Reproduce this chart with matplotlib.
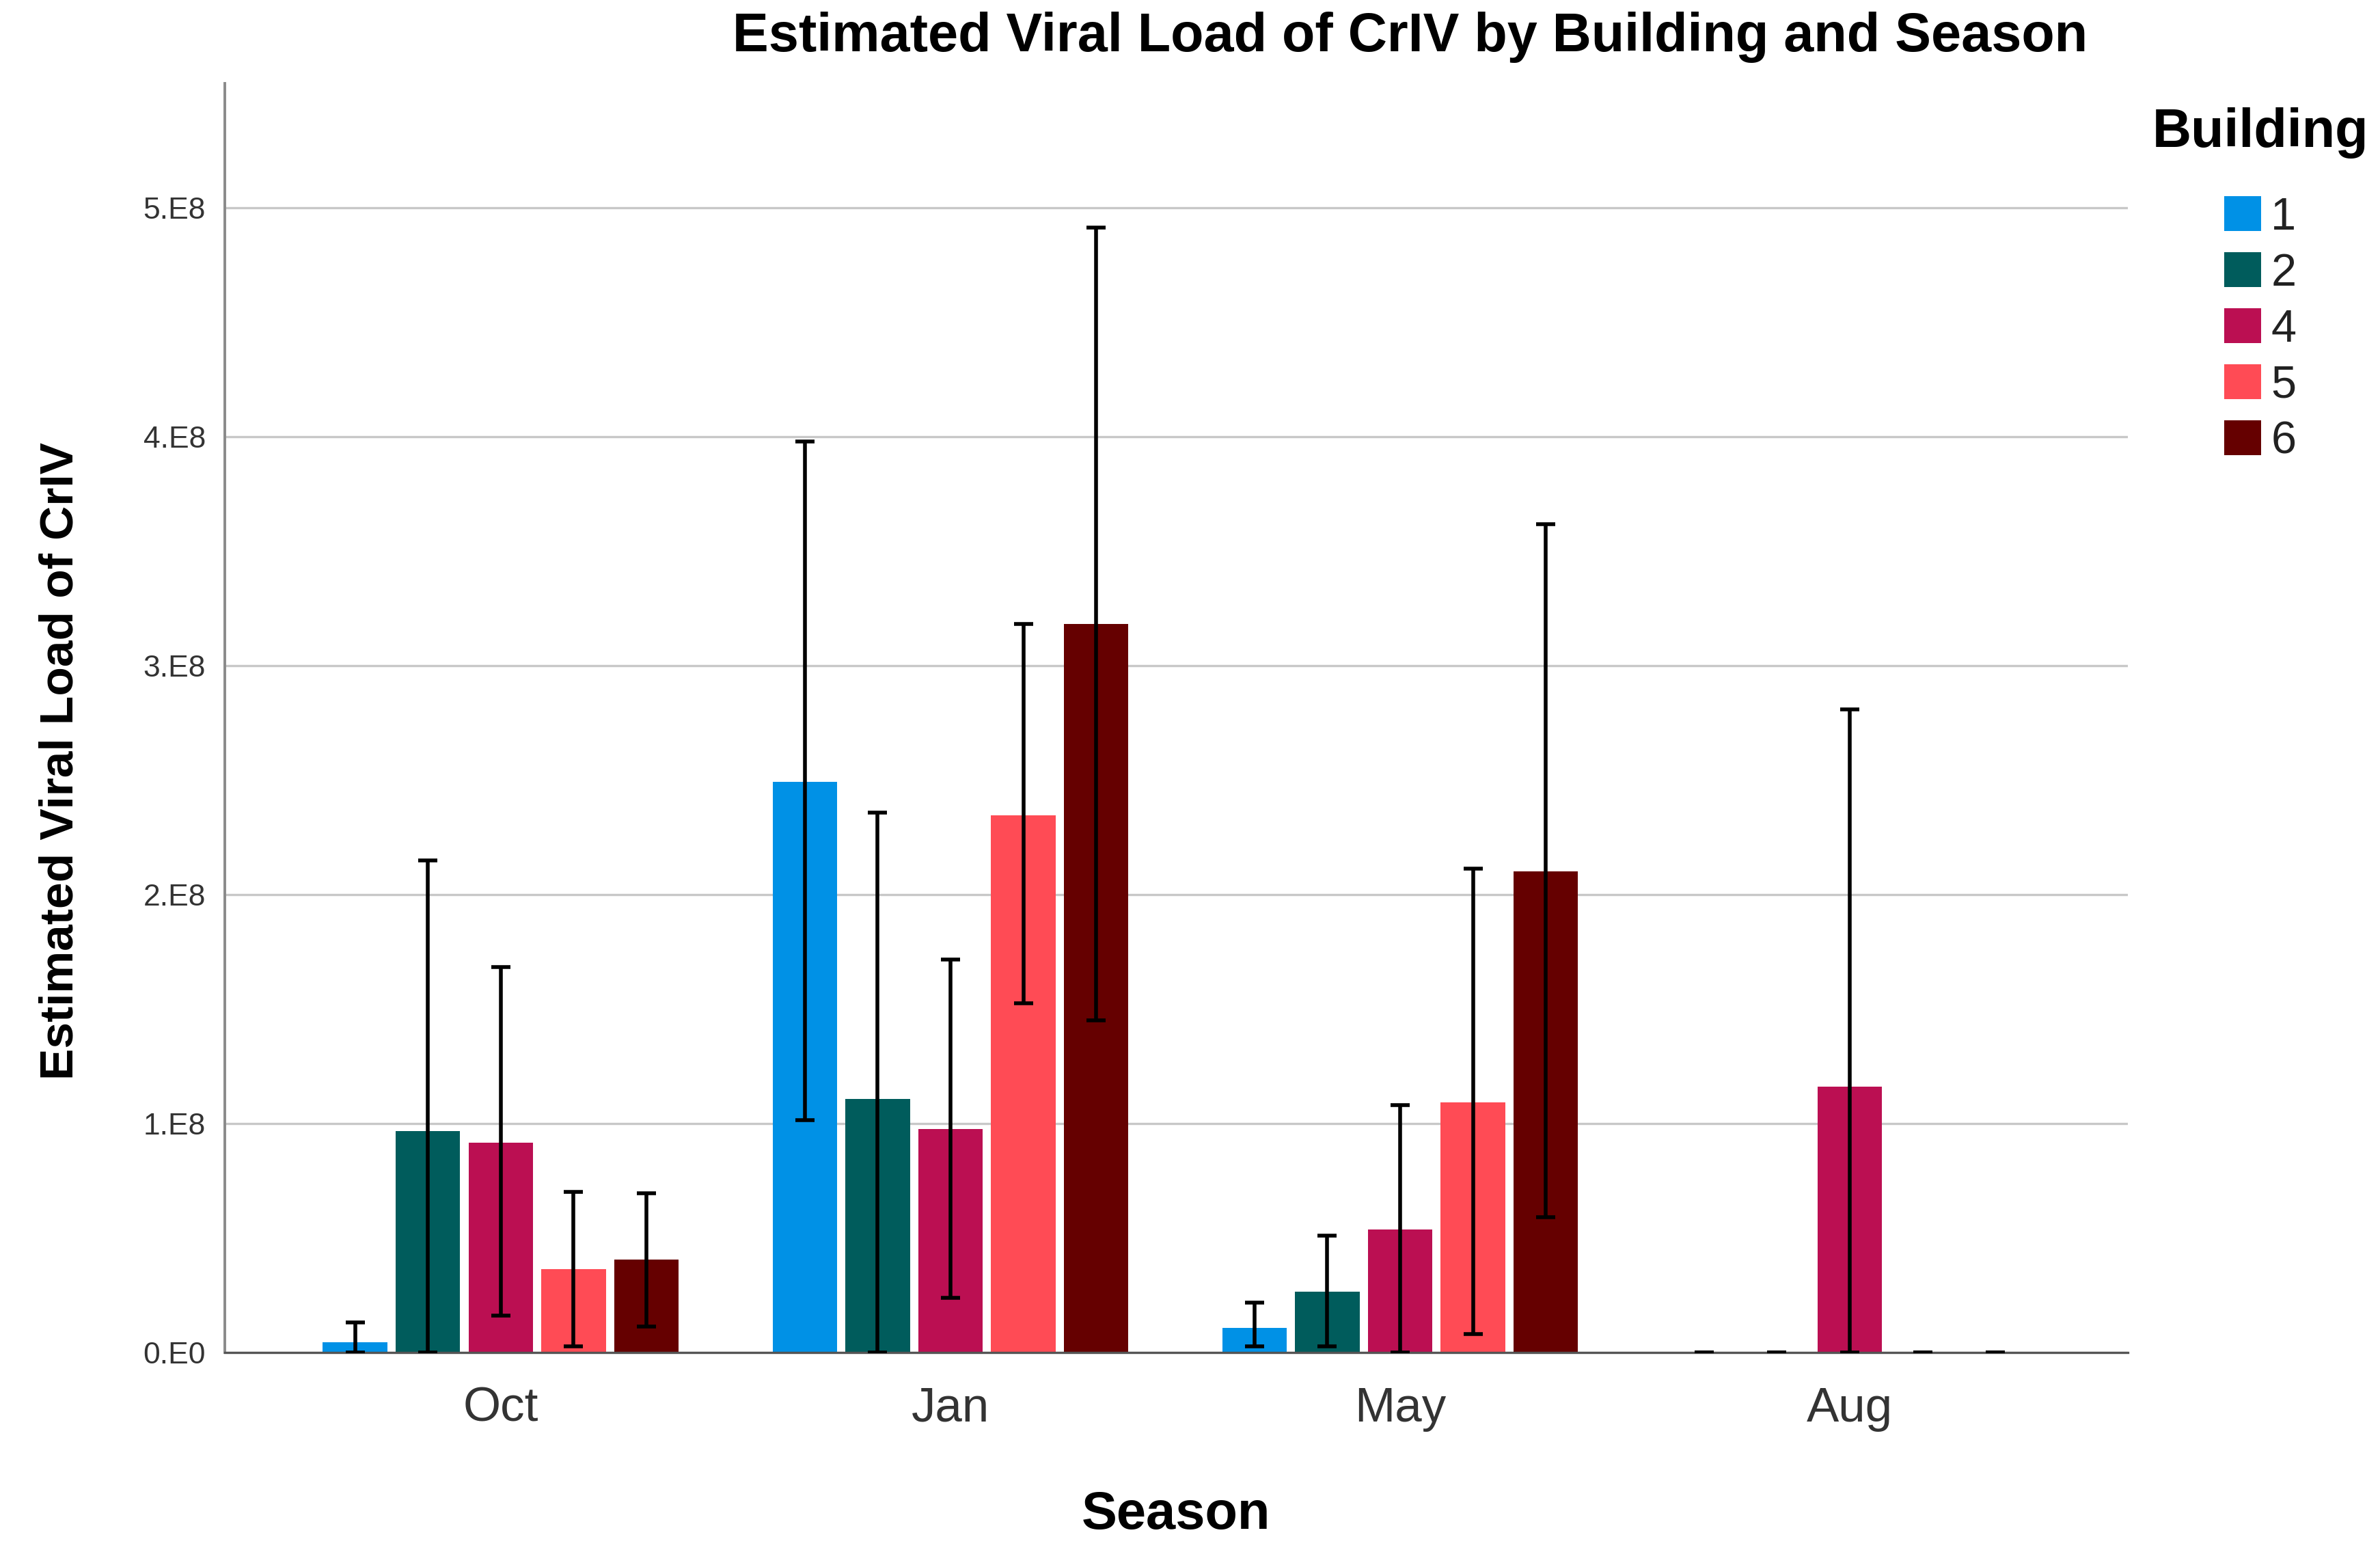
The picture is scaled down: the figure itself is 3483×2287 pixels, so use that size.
import matplotlib
matplotlib.use("Agg")
import matplotlib.pyplot as plt
import numpy as np
from matplotlib.ticker import FixedLocator, FixedFormatter

seasons = ["Oct", "Jan", "May", "Aug"]
buildings = ["1", "2", "4", "5", "6"]
colors = ["#0091E6", "#005C5C", "#BB0F52", "#FF4B55", "#650000"]

# mean values (per building, across seasons Oct, Jan, May, Aug)
means = {
    "1": [0.046e8, 2.493e8, 0.106e8, 0.0],
    "2": [0.968e8, 1.107e8, 0.265e8, 0.0],
    "4": [0.915e8, 0.975e8, 0.537e8, 1.16e8],
    "5": [0.365e8, 2.347e8, 1.094e8, 0.0],
    "6": [0.405e8, 3.183e8, 2.102e8, 0.0],
}
err_low = {
    "1": [0.0, 1.015e8, 0.027e8, 0.0],
    "2": [0.0, 0.0, 0.027e8, 0.0],
    "4": [0.16e8, 0.239e8, 0.0, 0.0],
    "5": [0.027e8, 1.525e8, 0.08e8, 0.0],
    "6": [0.113e8, 1.452e8, 0.59e8, 0.0],
}
err_high = {
    "1": [0.13e8, 3.98e8, 0.219e8, 0.0],
    "2": [2.15e8, 2.36e8, 0.51e8, 0.0],
    "4": [1.684e8, 1.717e8, 1.08e8, 2.81e8],
    "5": [0.70e8, 3.183e8, 2.115e8, 0.0],
    "6": [0.696e8, 4.914e8, 3.62e8, 0.0],
}
ytick_values = [0, 1e8, 2e8, 3e8, 4e8, 5e8]
ytick_labels = ["0.E0", "1.E8", "2.E8", "3.E8", "4.E8", "5.E8"]

SANS = ["Liberation Sans", "DejaVu Sans"]
plt.rcParams["font.family"] = SANS

W, H = 3483, 2287
fig = plt.figure(figsize=(W / 100, H / 100), dpi=100)
ax = fig.add_axes([0.0944, 0.1347, 0.894 - 0.0944, 0.9466 - 0.1347])

x = np.arange(len(seasons))
step = 0.162
width = 0.1435
handles = []
for i, b in enumerate(buildings):
    pos = x + (i - 2) * step
    m = np.array(means[b])
    lo = np.array(err_low[b])
    hi = np.array(err_high[b])
    h = ax.bar(pos, m, width=width, color=colors[i], zorder=2, label=b)
    handles.append(h)
    ax.errorbar(pos, m, yerr=[m - lo, hi - m], fmt="none", ecolor="black",
                elinewidth=4.0, capsize=10, capthick=4.0, zorder=3)

ax.set_xlim(-0.614, 3.618)
ax.set_ylim(0, 5.544e8)
ax.yaxis.set_major_locator(FixedLocator(ytick_values))
ax.yaxis.set_major_formatter(FixedFormatter(ytick_labels))
ax.set_xticks(x)
ax.set_xticklabels(seasons)
ax.grid(axis="y", color="#c8c8c8", linewidth=2.4, zorder=0)
ax.set_axisbelow(True)
for s in ["top", "right"]:
    ax.spines[s].set_visible(False)
ax.spines["left"].set_color("#8a8a8a")
ax.spines["left"].set_linewidth(2.8)
ax.spines["bottom"].set_color("#555555")
ax.spines["bottom"].set_linewidth(2.4)
ax.tick_params(axis="y", length=0, pad=20, labelsize=32, labelcolor="#333333")
ax.tick_params(axis="x", length=0, pad=36, labelsize=51, labelcolor="#333333")

ax.set_ylabel("Estimated Viral Load of CrIV", fontsize=50, fontweight="bold")
ax.yaxis.label.set_va("center")
ax.yaxis.set_label_coords(-0.0862, 0.466)
ax.set_xlabel("Season", fontsize=56, fontweight="bold")
ax.xaxis.label.set_va("center")
ax.xaxis.set_label_coords(0.5, -0.128)

fig.suptitle("Estimated Viral Load of CrIV by Building and Season", x=0.5925, y=0.976,
             va="center", fontsize=57, fontweight="bold")

# legend title drawn separately, centred over the entries
fig.text(0.9497, 1 - 195 / H, "Building", ha="center", va="center",
         fontsize=57, fontweight="bold")
leg = fig.legend(handles=handles, labels=buildings,
                 loc="upper center", bbox_to_anchor=(0.9497, 1 - 287 / H),
                 frameon=False, fontsize=48, handlelength=0.8, handleheight=0.8,
                 handletextpad=0.22, labelspacing=0.29, borderpad=0, borderaxespad=0)
for t in leg.get_texts():
    t.set_color("#222222")

fig.savefig("out.png", dpi=100)
